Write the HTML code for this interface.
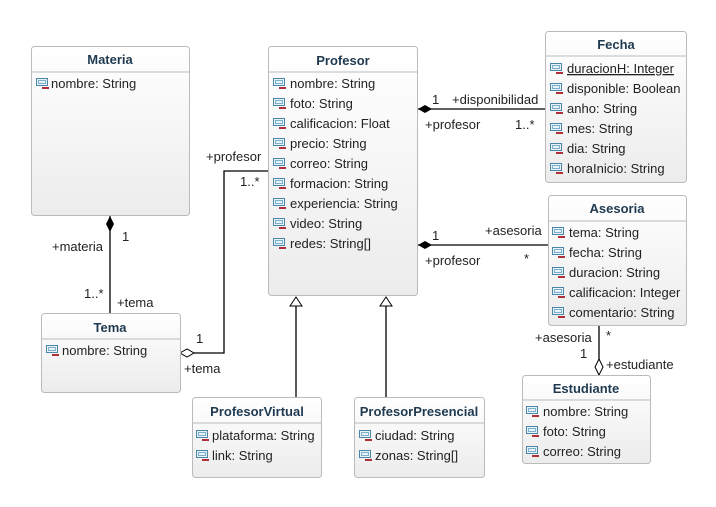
<!DOCTYPE html>
<html><head><meta charset="utf-8"><style>
html,body{margin:0;padding:0;background:#fff;}
svg{display:block;}
text{font-family:"Liberation Sans",sans-serif;font-size:13px;fill:#222;}
.t{font-weight:bold;fill:#1f3a50;text-anchor:middle;}
</style></head><body>
<svg width="716" height="507" viewBox="0 0 716 507" xmlns="http://www.w3.org/2000/svg">
<defs>
<linearGradient id="g" x1="0" y1="0" x2="0" y2="1"><stop offset="0" stop-color="#ffffff"/><stop offset="1" stop-color="#ececec"/></linearGradient>
<symbol id="ic" viewBox="0 0 13 11" width="13" height="11">
<rect x="0.5" y="0.5" width="11" height="7" fill="#e8f2f8" stroke="#4a86a8" stroke-width="1"/>
<rect x="2.5" y="2.5" width="7" height="3" fill="none" stroke="#7ab0cc" stroke-width="1"/>
<rect x="6" y="9" width="7" height="2" fill="#b0303a"/>
</symbol>
</defs>
<g stroke="#000" stroke-width="1.3" fill="none">
<line x1="418" y1="109" x2="545" y2="109"/>
<line x1="418" y1="245" x2="548" y2="245"/>
<line x1="110" y1="216" x2="110" y2="313"/>
<polyline points="180,353 224,353 224,171 268,171"/>
<line x1="296" y1="306" x2="296" y2="397"/>
<line x1="386" y1="306" x2="386" y2="397"/>
<line x1="599" y1="326" x2="599" y2="375"/>
</g>
<polygon points="418,109 425,105 432,109 425,113" fill="#000"/>
<polygon points="418,245 425,241 432,245 425,249" fill="#000"/>
<polygon points="110,216 114,224 110,232 106,224" fill="#000"/>
<polygon points="180,353 187,349 194,353 187,357" fill="#fff" stroke="#000"/>
<polygon points="599,375 595,367 599,359 603,367" fill="#fff" stroke="#000"/>
<polygon points="296,297 302,306 290,306" fill="#fff" stroke="#000"/>
<polygon points="386,297 392,306 380,306" fill="#fff" stroke="#000"/>

<text x="432" y="104">1</text><text x="452" y="104">+disponibilidad</text>
<text x="425" y="129">+profesor</text><text x="515" y="129">1..*</text>
<text x="432" y="240">1</text><text x="485" y="235">+asesoria</text>
<text x="425" y="265">+profesor</text><text x="524" y="263">*</text>
<text x="122" y="241">1</text><text x="52" y="251">+materia</text>
<text x="84" y="298">1..*</text><text x="117" y="307">+tema</text>
<text x="206" y="161">+profesor</text><text x="240" y="186">1..*</text>
<text x="196" y="343">1</text><text x="184" y="373">+tema</text>
<text x="535" y="342">+asesoria</text><text x="606" y="340">*</text>
<text x="580" y="358">1</text><text x="606" y="369">+estudiante</text>

<rect x="31.5" y="46.5" width="158" height="169" rx="3" fill="url(#g)" stroke="#bbb"/>
<line x1="32" y1="72" x2="189" y2="72" stroke="#bbb"/>
<text class="t" x="110" y="64">Materia</text>
<use href="#ic" x="36" y="78"/><text x="51" y="88">nombre: String</text>

<rect x="41.5" y="313.5" width="139" height="79" rx="3" fill="url(#g)" stroke="#bbb"/>
<line x1="42" y1="339" x2="180" y2="339" stroke="#bbb"/>
<text class="t" x="110" y="332">Tema</text>
<use href="#ic" x="46" y="345"/><text x="62" y="355">nombre: String</text>

<rect x="268.5" y="46.5" width="149" height="249" rx="3" fill="url(#g)" stroke="#bbb"/>
<line x1="269" y1="72" x2="417" y2="72" stroke="#bbb"/>
<text class="t" x="343" y="65">Profesor</text>
<use href="#ic" x="273" y="78"/><text x="290" y="88">nombre: String</text>
<use href="#ic" x="273" y="98"/><text x="290" y="108">foto: String</text>
<use href="#ic" x="273" y="118"/><text x="290" y="128">calificacion: Float</text>
<use href="#ic" x="273" y="138"/><text x="290" y="148">precio: String</text>
<use href="#ic" x="273" y="158"/><text x="290" y="168">correo: String</text>
<use href="#ic" x="273" y="178"/><text x="290" y="188">formacion: String</text>
<use href="#ic" x="273" y="198"/><text x="290" y="208">experiencia: String</text>
<use href="#ic" x="273" y="218"/><text x="290" y="228">video: String</text>
<use href="#ic" x="273" y="238"/><text x="290" y="248">redes: String[]</text>

<rect x="545.5" y="31.5" width="141" height="151" rx="3" fill="url(#g)" stroke="#bbb"/>
<line x1="546" y1="56" x2="686" y2="56" stroke="#bbb"/>
<text class="t" x="616" y="49">Fecha</text>
<use href="#ic" x="550" y="63"/><text x="567" y="73" text-decoration="underline">duracionH: Integer</text>
<use href="#ic" x="550" y="83"/><text x="567" y="93">disponible: Boolean</text>
<use href="#ic" x="550" y="103"/><text x="567" y="113">anho: String</text>
<use href="#ic" x="550" y="123"/><text x="567" y="133">mes: String</text>
<use href="#ic" x="550" y="143"/><text x="567" y="153">dia: String</text>
<use href="#ic" x="550" y="163"/><text x="567" y="173">horaInicio: String</text>

<rect x="548.5" y="195.5" width="138" height="130" rx="3" fill="url(#g)" stroke="#bbb"/>
<line x1="549" y1="221" x2="686" y2="221" stroke="#bbb"/>
<text class="t" x="617" y="213">Asesoria</text>
<use href="#ic" x="552" y="227"/><text x="569" y="237">tema: String</text>
<use href="#ic" x="552" y="247"/><text x="569" y="257">fecha: String</text>
<use href="#ic" x="552" y="267"/><text x="569" y="277">duracion: String</text>
<use href="#ic" x="552" y="287"/><text x="569" y="297">calificacion: Integer</text>
<use href="#ic" x="552" y="307"/><text x="569" y="317">comentario: String</text>

<rect x="522.5" y="375.5" width="128" height="88" rx="3" fill="url(#g)" stroke="#bbb"/>
<line x1="523" y1="400" x2="650" y2="400" stroke="#bbb"/>
<text class="t" x="586" y="393">Estudiante</text>
<use href="#ic" x="526" y="406"/><text x="543" y="416">nombre: String</text>
<use href="#ic" x="526" y="426"/><text x="543" y="436">foto: String</text>
<use href="#ic" x="526" y="446"/><text x="543" y="456">correo: String</text>

<rect x="192.5" y="397.5" width="129" height="80" rx="3" fill="url(#g)" stroke="#bbb"/>
<line x1="193" y1="423" x2="321" y2="423" stroke="#bbb"/>
<text class="t" x="257" y="416">ProfesorVirtual</text>
<use href="#ic" x="196" y="430"/><text x="212" y="440">plataforma: String</text>
<use href="#ic" x="196" y="450"/><text x="212" y="460">link: String</text>

<rect x="354.5" y="397.5" width="130" height="80" rx="3" fill="url(#g)" stroke="#bbb"/>
<line x1="355" y1="423" x2="484" y2="423" stroke="#bbb"/>
<text class="t" x="419" y="416">ProfesorPresencial</text>
<use href="#ic" x="359" y="430"/><text x="375" y="440">ciudad: String</text>
<use href="#ic" x="359" y="450"/><text x="375" y="460">zonas: String[]</text>
</svg>
</body></html>
